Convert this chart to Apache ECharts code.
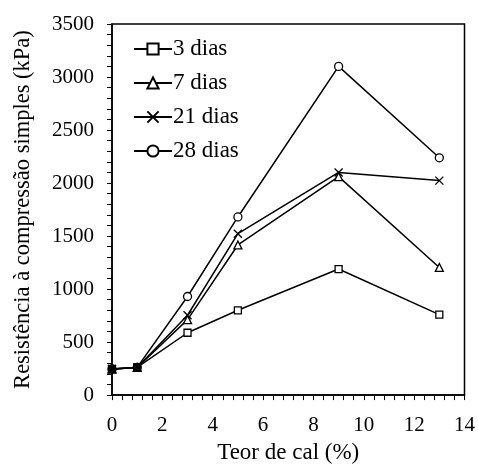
<!DOCTYPE html>
<html><head><meta charset="utf-8">
<script src="https://cdn.jsdelivr.net/npm/echarts@6/dist/echarts.min.js"></script>
<style>html,body{margin:0;padding:0;background:#fff}#c{width:478px;height:469px}</style>
</head><body><div id="c"></div>
<script>
const teor = [0, 1, 3, 5, 9, 13];
const dias3 = [246, 261, 588, 800, 1189, 759];
const dias7 = [246, 261, 712, 1416, 2060, 1204];
const dias21 = [246, 261, 753, 1522, 2100, 2023];
const dias28 = [246, 261, 930, 1680, 3100, 2238];
const seriesNames = ['3 dias', '7 dias', '21 dias', '28 dias'];
const xTicks = [0, 2, 4, 6, 8, 10, 12, 14];
const yTicks = [0, 500, 1000, 1500, 2000, 2500, 3000, 3500];

const font = 'Liberation Serif';
const symbols = ['rect', 'triangle', 'path://M0,0L10,10M10,0L0,10', 'circle'];
const sizes = [7, 8, 8, 8];
const all = [dias3, dias7, dias21, dias28];
const XMIN = xTicks[0], XMAX = xTicks[xTicks.length - 1];
const YMIN = yTicks[0], YMAX = yTicks[yTicks.length - 1];
const XMAJOR = xTicks[1] - xTicks[0], YMAJOR = yTicks[1] - yTicks[0];

function majorOnly(step) {
  return v => {
    const r = v / step;
    return Math.abs(r - Math.round(r)) < 1e-6 ? String(Math.round(r) * step) : '';
  };
}

const chart = echarts.init(document.getElementById('c'));
chart.setOption({
  animation: false,
  grid: { left: 112, right: 13, top: 24, bottom: 70, show: true, borderColor: '#000', borderWidth: 1.5, backgroundColor: 'transparent' },
  legend: {
    left: 128, top: 32, orient: 'vertical', itemGap: 10, itemWidth: 38, itemHeight: 14,
    textStyle: { fontFamily: font, fontSize: 23, lineHeight: 24, color: '#000', padding: [0, 0, 0, -4] },
    data: seriesNames
  },
  xAxis: {
    type: 'value', min: XMIN, max: XMAX, interval: XMAJOR / 5,
    name: 'Teor de cal (%)', nameLocation: 'middle', nameGap: 44,
    nameTextStyle: { fontFamily: font, fontSize: 23, color: '#000' },
    axisLine: { lineStyle: { color: '#000', width: 1.5 } },
    axisTick: { length: 5, lineStyle: { color: '#000', width: 1 } },
    axisLabel: { fontFamily: font, fontSize: 21, color: '#000', margin: 20, formatter: majorOnly(XMAJOR) },
    splitLine: { show: false }
  },
  yAxis: {
    type: 'value', min: YMIN, max: YMAX, interval: YMAJOR / 5,
    name: 'Resistência à compressão simples (kPa)', nameLocation: 'middle', nameGap: 77,
    nameTextStyle: { fontFamily: font, fontSize: 22.5, color: '#000' },
    axisLine: { show: true, lineStyle: { color: '#000', width: 1.5 } },
    axisTick: { show: true, length: 5, lineStyle: { color: '#000', width: 1 } },
    axisLabel: { fontFamily: font, fontSize: 21, color: '#000', margin: 18, formatter: majorOnly(YMAJOR) },
    splitLine: { show: false }
  },
  series: seriesNames.map((n, i) => ({
    name: n, type: 'line',
    data: teor.map((x, j) => ({
      value: [x, all[i][j]],
      itemStyle: x <= 1 ? { color: '#000' } : undefined
    })),
    symbol: symbols[i], symbolSize: sizes[i], showAllSymbol: true,
    lineStyle: { color: '#000', width: 1.5 },
    itemStyle: { color: i === 2 ? 'none' : '#fff', borderColor: '#000', borderWidth: 1.3 },
    emphasis: { disabled: true }
  }))
});
</script></body></html>
